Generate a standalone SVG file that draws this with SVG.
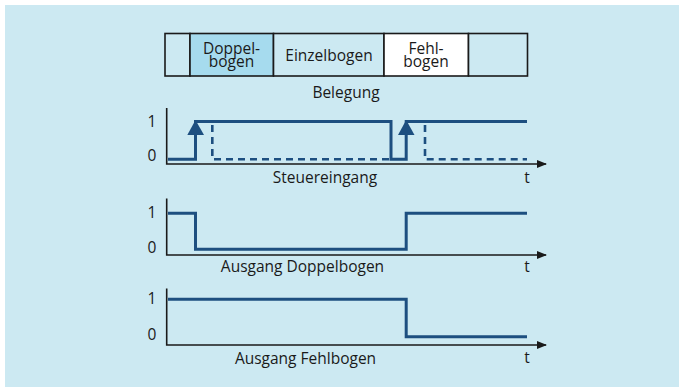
<svg xmlns="http://www.w3.org/2000/svg" width="679" height="387" viewBox="0 0 679 387">
<style>
.t{font-family:"Open Sans","Noto Sans","Liberation Sans",sans-serif;font-size:15.5px;fill:#1a1a1a}
.c{text-anchor:middle}
.ax{stroke:#1a1a1a;stroke-width:1.6;fill:none}
.sig{stroke:#1d4f80;stroke-width:3;fill:none;stroke-linejoin:miter}
.dash{stroke:#1d4f80;stroke-width:2.6;fill:none;stroke-dasharray:7,5}
.cell{stroke:#1a1a1a;stroke-width:1.6}
</style>
<defs>
<marker id="ah" markerWidth="10" markerHeight="8" refX="9" refY="4" orient="auto" markerUnits="userSpaceOnUse">
<path d="M0,0 L10,4 L0,8 Z" fill="#1a1a1a"/>
</marker>
</defs>
<rect x="0" y="0" width="679" height="387" fill="#ffffff"/>
<rect x="5" y="5" width="674" height="382" fill="#cce9f2"/>
<g id="belegung">
<rect class="cell" x="165" y="33.5" width="25" height="42.5" fill="#cce9f2"/>
<rect class="cell" x="190" y="33.5" width="83.5" height="42.5" fill="#a6dbee"/>
<rect class="cell" x="273.5" y="33.5" width="110.5" height="42.5" fill="#cce9f2"/>
<rect class="cell" x="384" y="33.5" width="84.5" height="42.5" fill="#ffffff"/>
<rect class="cell" x="468.5" y="33.5" width="59" height="42.5" fill="#cce9f2"/>
<text class="t c" x="231.5" y="53.5">Doppel-</text>
<text class="t c" x="231.5" y="67.3">bogen</text>
<text class="t c" x="329" y="60.5">Einzelbogen</text>
<text class="t c" x="426" y="53.5">Fehl-</text>
<text class="t c" x="426" y="67.3">bogen</text>
<text class="t c" x="346" y="98">Belegung</text>
</g>
<g id="chart-steuereingang">
<path class="ax" d="M166.7,108 V164 H546" marker-end="url(#ah)"/>
<text class="t c" x="152" y="126.5">1</text>
<text class="t c" x="152" y="160.5">0</text>
<path class="sig" d="M168,159.3 H195.5 V121.5 H391 V159.3 H406.2 V121.5 H527"/>
<path d="M187.3,135 L195.5,120 L204,135 Z" fill="#1d4f80"/>
<path d="M398,135 L406.2,120 L414.5,135 Z" fill="#1d4f80"/>
<path class="dash" d="M212.3,125 V159.3 H391"/>
<path class="dash" d="M425,125 V159.3 H527"/>
<text class="t c" x="325" y="183">Steuereingang</text>
<text class="t c" x="527" y="183">t</text>
</g>
<g id="chart-doppelbogen">
<path class="ax" d="M166.7,198.5 V255 H546" marker-end="url(#ah)"/>
<text class="t c" x="152" y="218">1</text>
<text class="t c" x="152" y="252.5">0</text>
<path class="sig" d="M168,213.3 H195.5 V249.3 H406.2 V213.3 H527"/>
<text class="t c" x="302.5" y="272">Ausgang Doppelbogen</text>
<text class="t c" x="527" y="272">t</text>
</g>
<g id="chart-fehlbogen">
<path class="ax" d="M166.7,288.5 V345 H546" marker-end="url(#ah)"/>
<text class="t c" x="152" y="303.5">1</text>
<text class="t c" x="152" y="340">0</text>
<path class="sig" d="M168,299.3 H406.2 V336.7 H527"/>
<text class="t c" x="305.5" y="363.5">Ausgang Fehlbogen</text>
<text class="t c" x="527" y="363">t</text>
</g>
</svg>
